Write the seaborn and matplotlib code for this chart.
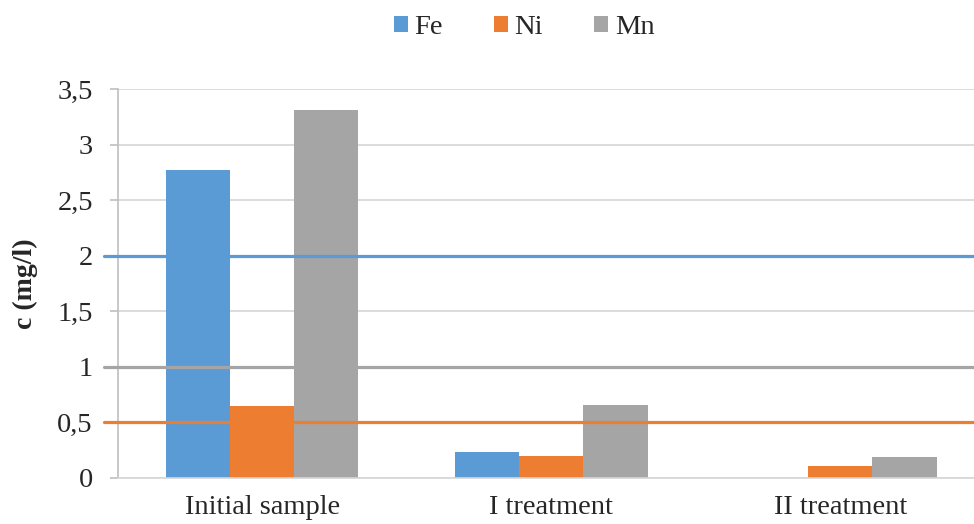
import seaborn as sns
import matplotlib.pyplot as plt
import pandas as pd
from matplotlib.ticker import FuncFormatter, MultipleLocator
from matplotlib.patches import Patch

# data
samples = ["Initial sample", "I treatment", "II treatment"]
metals = ["Fe", "Ni", "Mn"]
fe_values = [2.77, 0.23, 0.0]
ni_values = [0.65, 0.20, 0.11]
mn_values = [3.31, 0.66, 0.19]
# limit values drawn as horizontal lines
limits = {"Fe": 2.0, "Mn": 1.0, "Ni": 0.5}

colors = {"Fe": "#5B9BD5", "Ni": "#ED7D31", "Mn": "#A5A5A5"}

df = pd.DataFrame({
    "sample": samples * 3,
    "metal": ["Fe"] * 3 + ["Ni"] * 3 + ["Mn"] * 3,
    "c": fe_values + ni_values + mn_values,
})

sns.set_style("white")
plt.rcParams["font.family"] = ["Liberation Serif", "DejaVu Serif"]

fig = plt.figure(figsize=(9.74, 5.24), dpi=100)
ax = fig.add_axes([0.121, 0.088, 0.879, 0.742])

# grid first so bars sit on top
ax.yaxis.set_major_locator(MultipleLocator(0.5))
ax.set_ylim(0, 3.5)
ax.grid(axis="y", color="#D6D6D6", linewidth=1.2, zorder=0)
ax.set_axisbelow(True)

sns.barplot(data=df, x="sample", y="c", hue="metal", hue_order=metals,
            order=samples, palette=colors, saturation=1, width=0.665, gap=0,
            edgecolor="none", linewidth=0, ax=ax, legend=False, zorder=2)

ax.set_xlim(-0.5, 2.462)
ax.set_ylim(0, 3.5)

# limit lines
for metal, val in limits.items():
    ax.axhline(val, xmin=-0.016, xmax=1.0, color=colors[metal],
               linewidth=2.3, clip_on=False, zorder=3)

ax.yaxis.set_major_formatter(FuncFormatter(
    lambda v, p: ("%g" % v).replace(".", ",")))

for s in ["top", "right"]:
    ax.spines[s].set_visible(False)
ax.spines["left"].set_color("#BFBFBF")
ax.spines["bottom"].set_color("#D6D6D6")
ax.spines["left"].set_linewidth(1.2)
ax.spines["bottom"].set_linewidth(1.2)

ax.tick_params(axis="y", length=6, color="#BFBFBF", width=1.2,
               labelsize=20.5, pad=12, left=True)
ax.tick_params(axis="x", length=0, labelsize=20.5, pad=12)
ax.set_xlabel("")
ax.set_ylabel("c (mg/l)", fontsize=20, fontweight="bold", labelpad=14)

handles = [Patch(facecolor=colors[m], edgecolor="none") for m in metals]
fig.legend(handles, metals, loc="center", bbox_to_anchor=(0.538, 0.947),
           ncol=3, frameon=False, fontsize=20.5, handlelength=0.5,
           handleheight=0.5, handletextpad=0.22, columnspacing=1.8)

plt.savefig("out.png", dpi=100)
plt.close()
